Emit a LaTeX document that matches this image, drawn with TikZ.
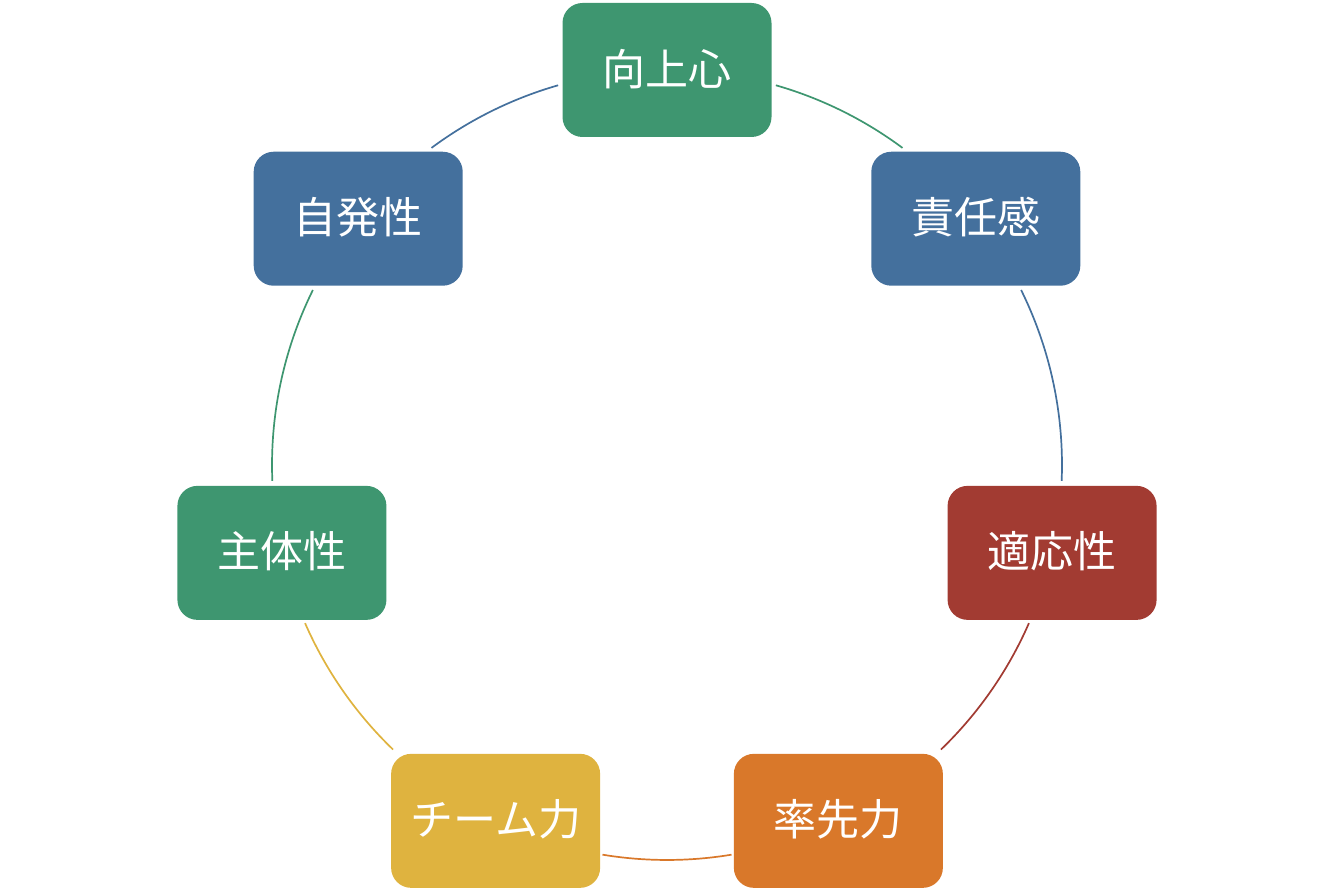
\documentclass[tikz,border=0pt]{standalone}
\usepackage{fontspec}
\newfontfamily\jp{Noto Sans CJK JP}
\definecolor{cgreen}{RGB}{62,150,112}
\definecolor{cblue}{RGB}{68,112,157}
\definecolor{cred}{RGB}{162,59,50}
\definecolor{corange}{RGB}{217,120,42}
\definecolor{cyellow}{RGB}{223,179,63}
\newcommand{\up}[1]{\raisebox{6pt}{#1}}
\tikzset{
  box/.style={rounded corners=20pt, minimum width=209pt, minimum height=134pt,
    inner sep=0pt, text=white, font=\jp\fontsize{43}{50}\selectfont},
  link/.style={line width=1.7pt},
}
\begin{document}
\begin{tikzpicture}[x=1pt,y=1pt]
\useasboundingbox (0,0) rectangle (1334,890);
\coordinate (c) at (667,425);
\path (c) ++(90:395) node[box, fill=cgreen] (n1) {\up{向上心}};
\path (c) ++(38.571:395) node[box, fill=cblue] (n2) {\up{責任感}};
\path (c) ++(-12.857:395) node[box, fill=cred] (n3) {\up{適応性}};
\path (c) ++(-64.286:395) node[box, fill=corange] (n4) {\up{率先力}};
\path (c) ++(-115.714:395) node[box, fill=cyellow] (n5) {\up{チーム力}};
\path (c) ++(-167.143:395) node[box, fill=cgreen] (n6) {\up{主体性}};
\path (c) ++(141.429:395) node[box, fill=cblue] (n7) {\up{自発性}};
\draw[link, cgreen]  (c) ++(74:395) arc[start angle=74, end angle=53.4, radius=395];
\draw[link, cblue]   (c) ++(26.3:395) arc[start angle=26.3, end angle=-2.3, radius=395];
\draw[link, cred]    (c) ++(-23.6:395) arc[start angle=-23.6, end angle=-46.1, radius=395];
\draw[link, corange] (c) ++(-80.6:395) arc[start angle=-80.6, end angle=-99.4, radius=395];
\draw[link, cyellow] (c) ++(-133.9:395) arc[start angle=-133.9, end angle=-156.4, radius=395];
\draw[link, cgreen]  (c) ++(182.3:395) arc[start angle=182.3, end angle=153.7, radius=395];
\draw[link, cblue]   (c) ++(126.6:395) arc[start angle=126.6, end angle=106, radius=395];
\end{tikzpicture}
\end{document}
